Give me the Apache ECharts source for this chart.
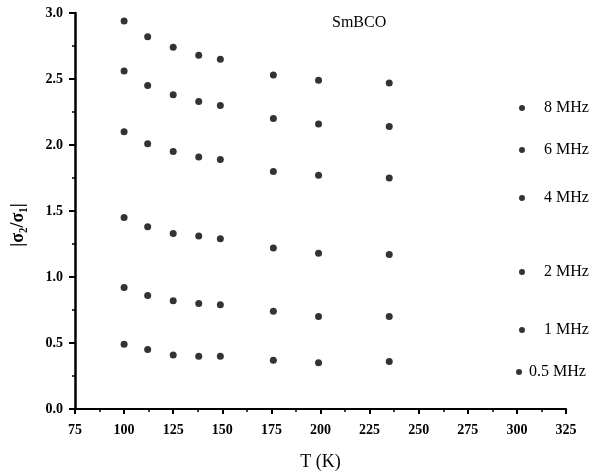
<!DOCTYPE html>
<html><head><meta charset="utf-8">
<script src="https://cdn.jsdelivr.net/npm/echarts@6/dist/echarts.min.js"></script>
<style>html,body{margin:0;padding:0;background:#fff}#c{width:602px;height:472px}</style>
</head><body><div id="c"></div>
<script>
const temps = [100, 112, 125, 138, 149, 176, 199, 235];
const seriesNames = ['8 MHz', '6 MHz', '4 MHz', '2 MHz', '1 MHz', '0.5 MHz'];
const s8 = [2.94, 2.82, 2.74, 2.68, 2.65, 2.53, 2.49, 2.47];
const s6 = [2.56, 2.45, 2.38, 2.33, 2.30, 2.20, 2.16, 2.14];
const s4 = [2.10, 2.01, 1.95, 1.91, 1.89, 1.80, 1.77, 1.75];
const s2 = [1.45, 1.38, 1.33, 1.31, 1.29, 1.22, 1.18, 1.17];
const s1 = [0.92, 0.86, 0.82, 0.80, 0.79, 0.74, 0.70, 0.70];
const s05 = [0.49, 0.45, 0.41, 0.40, 0.40, 0.37, 0.35, 0.36];
const yTicks = [0, 0.5, 1.0, 1.5, 2.0, 2.5, 3.0];
const xTicks = [75, 100, 125, 150, 175, 200, 225, 250, 275, 300, 325];

const values = [s8, s6, s4, s2, s1, s05];
const legendTops = [100, 142, 190, 264, 322, 364];
const legendLefts = [519, 519, 519, 519, 519, 516];
const legendPads = [14, 14, 14, 14, 14, 2];
const font = '"Liberation Serif", "DejaVu Serif", serif';

const chart = echarts.init(document.getElementById('c'));
chart.setOption({
  backgroundColor: '#fff',
  animation: false,
  title: {
    text: 'SmBCO', left: 327, top: 10,
    textStyle: { fontFamily: font, fontSize: 16, fontWeight: 'normal', color: '#000' }
  },
  legend: seriesNames.map((n, i) => ({
    data: [n], left: legendLefts[i], top: legendTops[i], padding: 0,
    icon: 'circle', itemWidth: 6, itemHeight: 6,
    textStyle: { fontFamily: font, fontSize: 16, color: '#000', padding: [0, 0, 0, legendPads[i]] }
  })),
  grid: { left: 75, right: 36, top: 13, bottom: 63, outerBoundsMode: 'none', containLabel: false },
  xAxis: {
    type: 'value', min: xTicks[0], max: xTicks[xTicks.length - 1], interval: 25,
    name: 'T (K)', nameLocation: 'middle', nameGap: 44,
    nameTextStyle: { fontFamily: font, fontSize: 18, color: '#000' },
    axisLine: { lineStyle: { color: '#000', width: 2 } },
    axisTick: { length: 5, lineStyle: { color: '#000', width: 2 } },
    minorTick: { show: true, splitNumber: 2, length: 3, lineStyle: { color: '#000', width: 1.5 } },
    splitLine: { show: false },
    axisLabel: { fontFamily: font, fontSize: 14, fontWeight: 'bold', color: '#000', margin: 14 }
  },
  yAxis: {
    type: 'value', min: yTicks[0], max: yTicks[yTicks.length - 1], interval: 0.5,
    name: '|σ₂/σ₁|', nameLocation: 'middle', nameGap: 48, nameRotate: 90,
    nameTextStyle: { fontFamily: font, fontSize: 18, fontWeight: 'bold', color: '#000', padding: [0, 28, 0, 0] },
    axisLine: { lineStyle: { color: '#000', width: 2.5 } },
    axisTick: { length: 6, lineStyle: { color: '#000', width: 2 } },
    minorTick: { show: true, splitNumber: 2, length: 3, lineStyle: { color: '#000', width: 1.5 } },
    splitLine: { show: false },
    axisLabel: { fontFamily: font, fontSize: 14, fontWeight: 'bold', color: '#000', margin: 12,
      formatter: v => v.toFixed(1) }
  },
  series: seriesNames.map((n, i) => ({
    name: n, type: 'scatter', symbol: 'circle', symbolSize: 7,
    itemStyle: { color: '#000' },
    data: temps.map((t, j) => [t, values[i][j]])
  }))
});
</script></body></html>
